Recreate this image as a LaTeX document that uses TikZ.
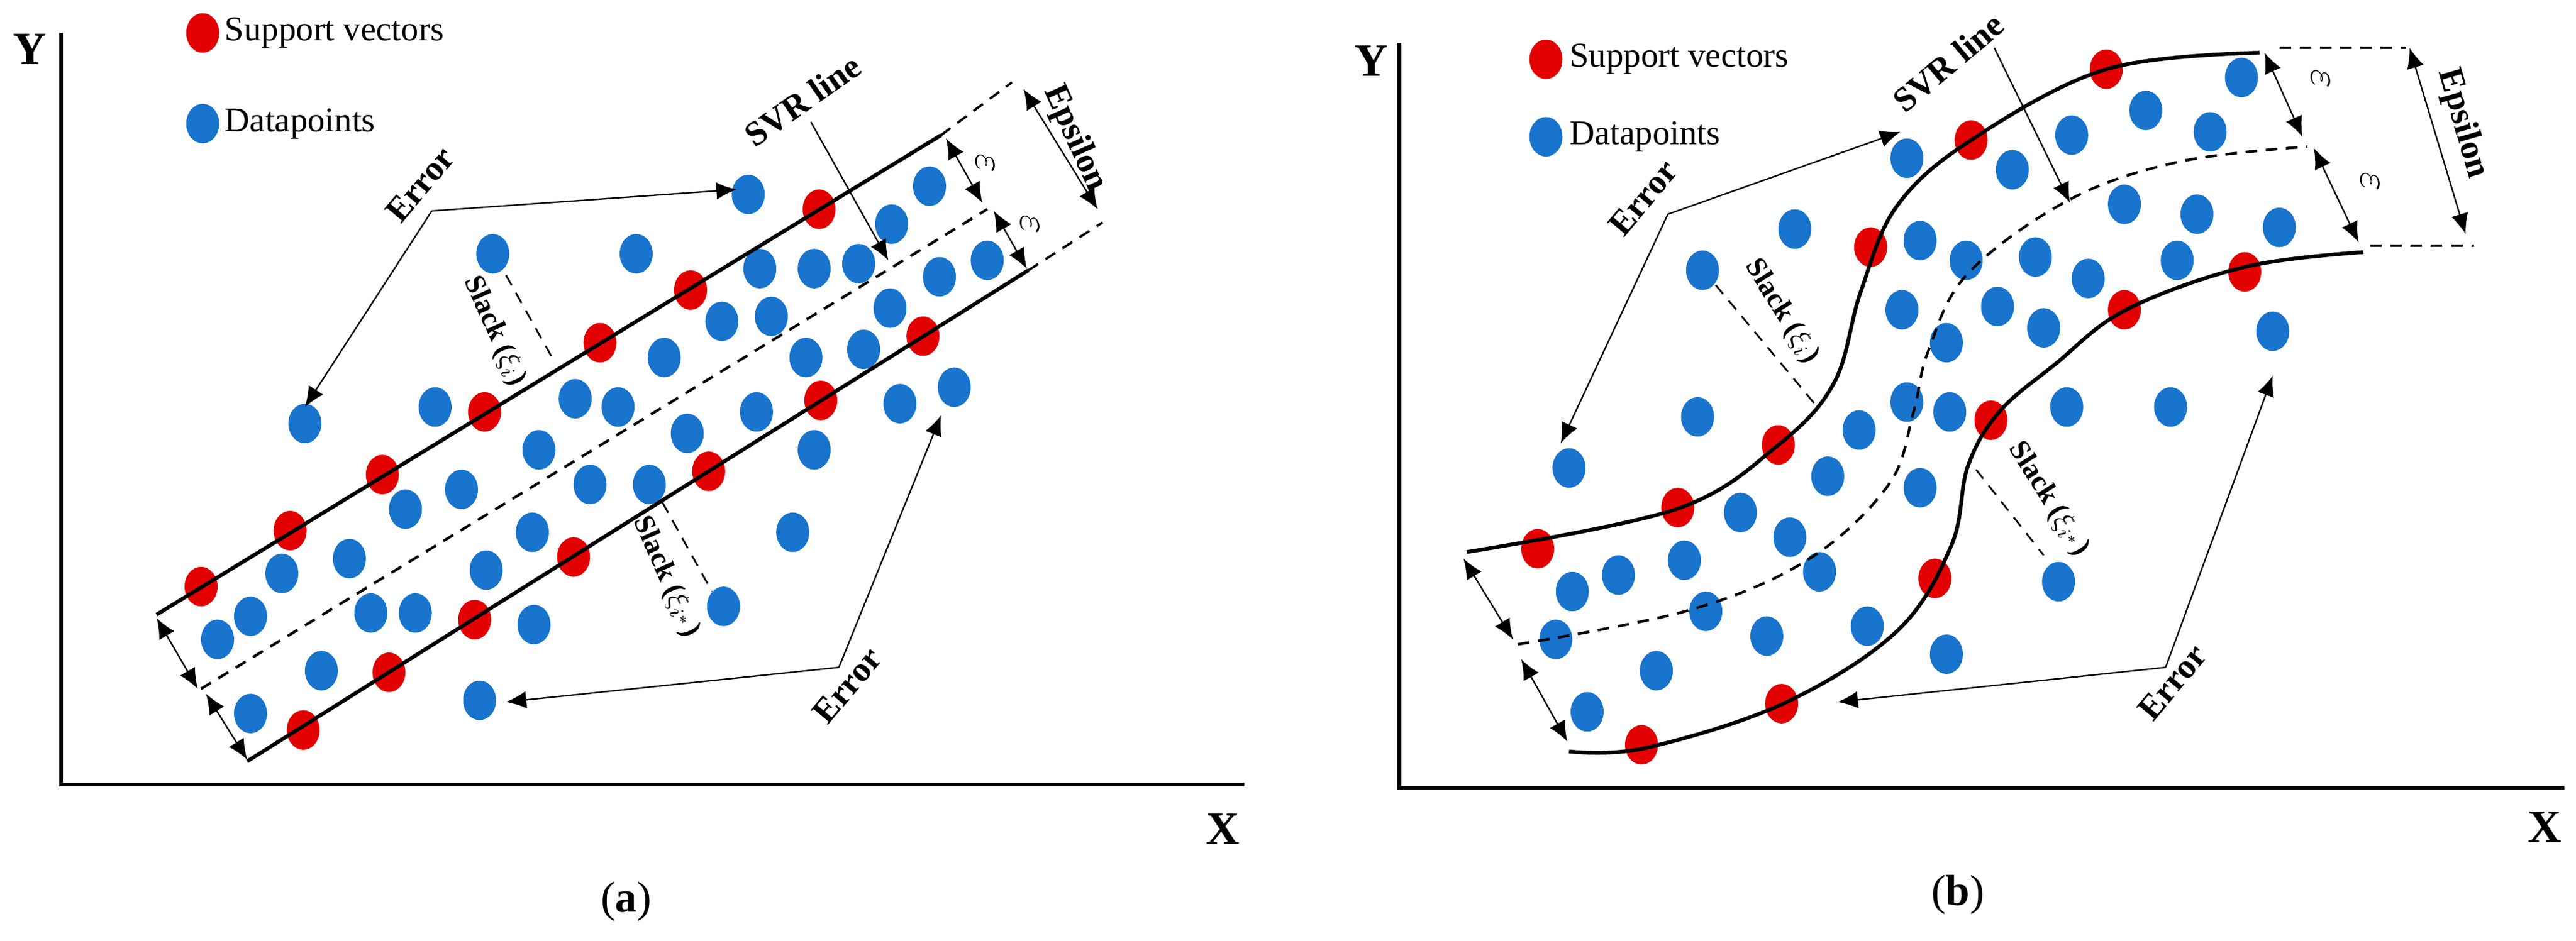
\documentclass[tikz,border=0pt]{standalone}
\usepackage{fontspec}
\setmainfont{Liberation Serif}
\usetikzlibrary{arrows.meta}
\definecolor{svred}{RGB}{226,0,0}
\definecolor{dpblue}{RGB}{24,116,205}
\begin{document}
\begin{tikzpicture}[x=0.02cm,y=-0.02cm,
 band/.style={line width=1.3pt},
 mid/.style={line width=0.9pt,dash pattern=on 4pt off 3pt},
 dsh/.style={line width=0.8pt,dash pattern=on 4pt off 3pt},
 arr/.style={line width=0.5pt,-{Latex[length=7pt,width=6pt]}},
 darr/.style={line width=0.5pt,{Latex[length=7pt,width=6pt]}-{Latex[length=7pt,width=6pt]}},
 lbl/.style={font=\fontsize{12}{14}\selectfont\bfseries,inner sep=1pt},
 slk/.style={font=\fontsize{10}{12}\selectfont\bfseries,inner sep=1pt},
 eps/.style={font=\fontsize{15}{17}\selectfont,inner sep=1pt,rotate=-90},
 leg/.style={font=\fontsize{12}{14}\selectfont,anchor=west,inner sep=0pt},
 ax/.style={font=\fontsize{16}{18}\selectfont\bfseries},
 captxt/.style={font=\fontsize{15}{18}\selectfont}]
\useasboundingbox (0,0) rectangle (1563,571);
\def\rdot#1{\fill[svred] #1 ellipse [x radius=10,y radius=12];}
\def\bdot#1{\fill[dpblue] #1 ellipse [x radius=10,y radius=12];}
% ================= panel (a) =================
\draw[line width=1.3pt] (37,20) -- (37,476) -- (755,476);
\node[ax] (ya) at (18,30) {Y};
\node[ax] (xa) at (742,503) {X};
\node[captxt] (ca) at (380,547) {(\textbf{a})};
\rdot{(123,20)} \node[leg] (lega1) at (136,20) {Support vectors};
\bdot{(123,75)} \node[leg] (lega2) at (136,75) {Datapoints};
\foreach \p in {(454,118),(564,113),(541,136),(299,154),(386,154),(461,163),(494,163),(521,160),(570,168),(599,158),(438,195),(468,192),(540,187),(403,217),(489,217),(524,212),(185,257),(264,247),(349,242),(375,247),(459,250),(546,245),(579,235),(327,273),(417,263),(494,273),(246,309),(280,297),(358,294),(394,294),(481,323),(212,339),(171,348),(323,323),(295,346),(152,374),(132,388),(225,372),(252,372),(324,379),(439,368),(195,407),(152,433),(291,425)} {\bdot{\p}}
\foreach \p in {(122,356),(176,322),(232,288),(294,250),(364,208),(419,176),(497,127),(184,443),(236,408),(288,376),(348,338),(430,286),(498,243),(560,204)} {\rdot{\p}}
\coordinate (aul) at (95,373); \coordinate (aur) at (571,82);
\coordinate (all) at (150,462); \coordinate (alr) at (624,164);
\coordinate (aml) at (122,418); \coordinate (amr) at (599,127);
\draw[band] (aul) -- (aur);
\draw[band] (all) -- (alr);
\draw[mid] (aml) -- (amr);
\coordinate (aue) at (614,50); \coordinate (ale) at (669,135);
\draw[dsh] (aur) -- (aue);
\draw[dsh] (alr) -- (ale);
\coordinate (aep1) at (621,54); \coordinate (aep2) at (666,127);
\draw[darr] (aep1) -- (aep2);
\node[lbl,rotate=-66] (aeps) at (652,84) {Epsilon};
\coordinate (ae1a) at (574,84); \coordinate (ae1b) at (596,123);
\coordinate (ae2a) at (603,128); \coordinate (ae2b) at (623,163);
\draw[darr] (ae1a) -- (ae1b); \draw[darr] (ae2a) -- (ae2b);
\node[eps] (aeL1) at (598,99) {$\varepsilon$};
\node[eps] (aeL2) at (625,136) {$\varepsilon$};
\coordinate (al1a) at (95,375); \coordinate (al1b) at (120,418);
\coordinate (al2a) at (125,421); \coordinate (al2b) at (150,461);
\draw[darr] (al1a) -- (al1b); \draw[darr] (al2a) -- (al2b);
\node[lbl,rotate=35] (asvr) at (487,61) {SVR line};
\coordinate (asv1) at (492,74); \coordinate (asv2) at (539,158);
\draw[arr] (asv1) -- (asv2);
\node[lbl,rotate=50] (aerr1) at (255,112) {Error};
\coordinate (ae1o) at (262,128); \coordinate (ae1t1) at (447,115); \coordinate (ae1t2) at (185,247);
\draw[arr] (ae1o) -- (ae1t1); \draw[arr] (ae1o) -- (ae1t2);
\node[lbl,rotate=50] (aerr2) at (514,416) {Error};
\coordinate (ae2o) at (509,405); \coordinate (ae2t1) at (307,426); \coordinate (ae2t2) at (571,252);
\draw[arr] (ae2o) -- (ae2t1); \draw[arr] (ae2o) -- (ae2t2);
\coordinate (as1a) at (307,167); \coordinate (as1b) at (335,217);
\draw[dsh,line width=0.6pt] (as1a) -- (as1b);
\node[slk,rotate=-66] (aslk1) at (300,201) {Slack ($\xi_i$)};
\coordinate (as2a) at (402,305); \coordinate (as2b) at (432,359);
\draw[dsh,line width=0.6pt] (as2a) -- (as2b);
\node[slk,rotate=-66] (aslk2) at (404,350) {Slack ($\xi_{i^*}$)};
% ================= panel (b) =================
\draw[line width=1.3pt] (849,26) -- (849,478) -- (1556,478);
\node[ax] (yb) at (832,37) {Y};
\node[ax] (xb) at (1544,502) {X};
\node[captxt] (cb) at (1188,543) {(\textbf{b})};
\rdot{(938,36)} \node[leg] (legb1) at (952,36) {Support vectors};
\bdot{(938,83)} \node[leg] (legb2) at (952,83) {Datapoints};
\foreach \p in {(1360,47),(1302,67),(1341,80),(1257,82),(1157,96),(1221,103),(1089,139),(1289,124),(1333,130),(1383,138),(1033,164),(1165,146),(1193,158),(1235,156),(1267,169),(1321,158),(1154,188),(1212,186),(1240,199),(1181,208),(1379,201),(1030,253),(1157,244),(1183,250),(1254,247),(1317,247),(1128,261),(952,284),(1109,289),(1165,296),(1056,311),(1086,326),(1022,340),(982,349),(954,359),(1104,347),(1249,353),(1035,371),(944,388),(1072,386),(1133,380),(1181,397),(1005,407),(963,432)} {\bdot{\p}}
\foreach \p in {(1278,42),(1196,85),(1135,150),(1079,270),(1018,308),(933,333),(996,452),(1081,427),(1174,351),(1208,255),(1289,188),(1362,165)} {\rdot{\p}}
\draw[band] plot[smooth,tension=0.6] coordinates {(890,335) (1017,309) (1079,270) (1113,232) (1129,177) (1151,125) (1196,85) (1278,42) (1371,32)};
\draw[mid] plot[smooth,tension=0.6] coordinates {(921,391) (1026,370) (1098,339) (1146,294) (1161,250) (1170,213) (1194,166) (1256,121) (1323,98) (1400,89)};
\draw[band] plot[smooth,tension=0.6] coordinates {(952,456) (998,454) (1082,427) (1151,383) (1184,331) (1194,283) (1213,250) (1247,221) (1290,188) (1362,162) (1434,153)};
\coordinate (bue1) at (1383,29); \coordinate (bue2) at (1460,29);
\coordinate (ble1) at (1438,149); \coordinate (ble2) at (1501,149);
\draw[dsh] (bue1) -- (bue2); \draw[dsh] (ble1) -- (ble2);
\coordinate (bep1) at (1462,29); \coordinate (bep2) at (1496,142);
\draw[darr] (bep1) -- (bep2);
\node[lbl,rotate=-74] (beps) at (1494,75) {Epsilon};
\coordinate (be1a) at (1374,32); \coordinate (be1b) at (1397,83);
\coordinate (be2a) at (1404,90); \coordinate (be2b) at (1431,147);
\draw[darr] (be1a) -- (be1b); \draw[darr] (be2a) -- (be2b);
\node[eps] (beL1) at (1408,48) {$\varepsilon$};
\node[eps] (beL2) at (1438,110) {$\varepsilon$};
\coordinate (bl1a) at (888,339); \coordinate (bl1b) at (918,388);
\coordinate (bl2a) at (923,400); \coordinate (bl2b) at (951,450);
\draw[darr] (bl1a) -- (bl1b); \draw[darr] (bl2a) -- (bl2b);
\node[lbl,rotate=40] (bsvr) at (1182,38) {SVR line};
\coordinate (bsv1) at (1210,29); \coordinate (bsv2) at (1256,123);
\draw[arr] (bsv1) -- (bsv2);
\node[lbl,rotate=50] (berr1) at (997,120) {Error};
\coordinate (be1o) at (1012,130); \coordinate (be1t1) at (1153,80); \coordinate (be1t2) at (947,269);
\draw[arr] (be1o) -- (be1t1); \draw[arr] (be1o) -- (be1t2);
\node[lbl,rotate=50] (berr2) at (1318,414) {Error};
\coordinate (be2o) at (1314,405); \coordinate (be2t1) at (1115,426); \coordinate (be2t2) at (1379,228);
\draw[arr] (be2o) -- (be2t1); \draw[arr] (be2o) -- (be2t2);
\coordinate (bs1a) at (1041,173); \coordinate (bs1b) at (1101,245);
\draw[dsh,line width=0.6pt] (bs1a) -- (bs1b);
\node[slk,rotate=-58] (bslk1) at (1081,189) {Slack ($\xi_i$)};
\coordinate (bs2a) at (1199,285); \coordinate (bs2b) at (1240,337);
\draw[dsh,line width=0.6pt] (bs2a) -- (bs2b);
\node[slk,rotate=-58] (bslk2) at (1243,303) {Slack ($\xi_{i^*}$)};
\end{tikzpicture}
\end{document}
